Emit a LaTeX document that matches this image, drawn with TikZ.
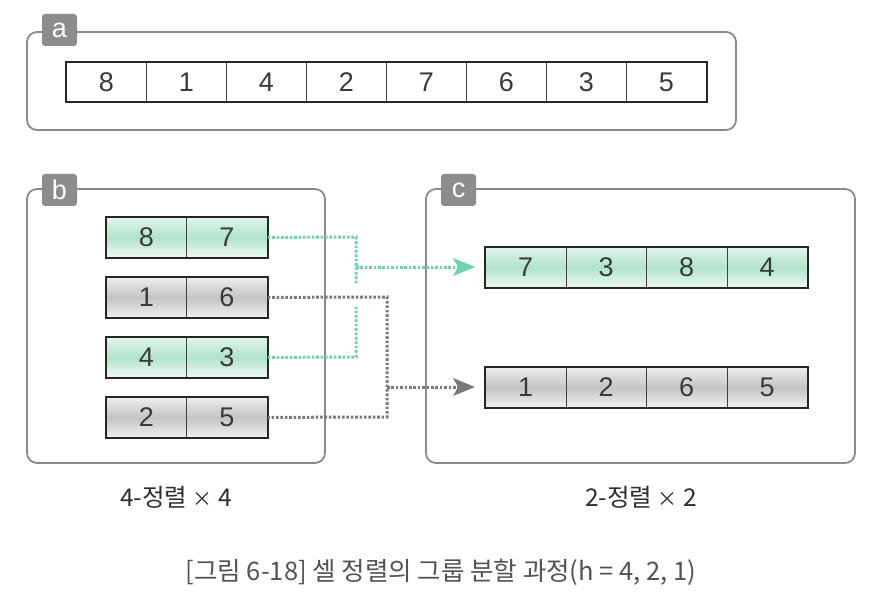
\documentclass[tikz,border=0pt]{standalone}
\usepackage{fontspec}
\setmainfont{Liberation Sans}
\newfontfamily\kr{Noto Sans CJK KR}
\usetikzlibrary{arrows.meta}

\definecolor{panelline}{HTML}{8A8A8A}
\definecolor{tabfill}{HTML}{8C8C8C}
\definecolor{digit}{HTML}{3A3A3A}
\definecolor{mintline}{HTML}{6CD3AE}
\definecolor{mintA}{HTML}{E2F5EC}
\definecolor{mintB}{HTML}{B0E3CC}
\definecolor{mintC}{HTML}{EEF9F4}
\definecolor{greyA}{HTML}{EDEDED}
\definecolor{greyB}{HTML}{C4C4C4}
\definecolor{greyC}{HTML}{EFEFEF}
\definecolor{greyline}{HTML}{7A7A7A}

\tikzset{
  panel/.style={draw=panelline, line width=1.8pt, rounded corners=10pt},
  tab/.style={fill=tabfill, rounded corners=3pt, minimum width=35pt, minimum height=32pt,
              inner sep=0pt, text=white, font=\fontsize{27}{27}\selectfont},
  cell/.style={draw=black!75, line width=0.8pt, inner sep=0pt, anchor=north west,
               text=digit, font=\fontsize{27}{27}\selectfont},
  plaincell/.style={cell, fill=white},
  mintcell/.style={cell, top color=mintA, bottom color=mintC, middle color=mintB},
  greycell/.style={cell, top color=greyA, bottom color=greyC, middle color=greyB},
  frame/.style={draw=black!85, line width=2pt},
  mintdot/.style={draw=mintline, line width=3pt, dash pattern=on 2.6pt off 1.8pt},
  greydot/.style={draw=greyline, line width=3pt, dash pattern=on 2.6pt off 1.8pt},
  mintarrow/.style={mintdot, -{Stealth[length=22pt,width=18pt,inset=5pt,line width=0pt,color=mintline,fill=mintline]}},
  greyarrow/.style={greydot, -{Stealth[length=22pt,width=18pt,inset=5pt,line width=0pt,color=greyline,fill=greyline]}},
  caption/.style={font=\kr\fontsize{24.5}{25}\selectfont, text=black!82, inner sep=0pt}
}

\begin{document}
\begin{tikzpicture}[x=1pt, y=-1pt]
\useasboundingbox (0,0) rectangle (879,607);

% ---------- panel a: the full array ----------
\draw[panel] (27,32) rectangle (736,130);
\node[tab] (taba) at (59.5,30) {a};
\foreach \v [count=\i from 0] in {8,1,4,2,7,6,3,5} {
  \node[plaincell, minimum width=80pt, minimum height=39pt] (a\i) at (66+80*\i,62) {\v};
}
\draw[frame] (a0.north west) rectangle (a7.south east);

% ---------- panel b: four groups of two ----------
\draw[panel] (27,189) rectangle (325,463);
\node[tab] (tabb) at (59.5,190) {b};

\node[mintcell, minimum width=80pt, minimum height=40pt] (b1l) at (106,217) {8};
\node[mintcell, minimum width=81pt, minimum height=40pt] (b1r) at (186,217) {7};
\node[greycell, minimum width=80pt, minimum height=40pt] (b2l) at (106,277) {1};
\node[greycell, minimum width=81pt, minimum height=40pt] (b2r) at (186,277) {6};
\node[mintcell, minimum width=80pt, minimum height=40pt] (b3l) at (106,337) {4};
\node[mintcell, minimum width=81pt, minimum height=40pt] (b3r) at (186,337) {3};
\node[greycell, minimum width=80pt, minimum height=40pt] (b4l) at (106,397) {2};
\node[greycell, minimum width=81pt, minimum height=40pt] (b4r) at (186,397) {5};
\foreach \r in {1,2,3,4} { \draw[frame] (b\r l.north west) rectangle (b\r r.south east); }

% ---------- panel c: two groups of four ----------
\draw[panel] (426,189) rectangle (855,463);
\node[tab] (tabc) at (458.5,190) {c};

\foreach \v [count=\i from 0] in {7,3,8,4} {
  \node[mintcell, minimum width=80.5pt, minimum height=40pt] (c1\i) at (485+80.5*\i,247) {\v};
}
\foreach \v [count=\i from 0] in {1,2,6,5} {
  \node[greycell, minimum width=80.5pt, minimum height=40pt] (c2\i) at (485+80.5*\i,367) {\v};
}
\draw[frame] (c10.north west) rectangle (c13.south east);
\draw[frame] (c20.north west) rectangle (c23.south east);

% ---------- connectors ----------
\coordinate (gtop) at (356,237);
\coordinate (gup)  at (356,285);
\coordinate (gdn)  at (356,307);
\coordinate (gbot) at (356,357);
\coordinate (gmid) at (356,267);
\coordinate (ktop) at (387,297);
\coordinate (kbot) at (387,417);
\coordinate (kmid) at (387,387);

\draw[mintdot] (b1r.east) -- (gtop) -- (gup);
\draw[mintdot] (b3r.east) -- (gbot) -- (gdn);
\draw[mintarrow, shorten >=10pt] (gmid) -- (c10.west |- gmid);

\draw[greydot] (b2r.east) -- (ktop) -- (kbot) -- (b4r.east);
\draw[greyarrow, shorten >=10pt] (kmid) -- (c20.west |- kmid);

% ---------- labels ----------
\node[caption] (lb) at (176,497) {4-정렬 {\fontsize{20}{20}\selectfont×} 4};
\node[caption] (lc) at (641,497) {2-정렬 {\fontsize{20}{20}\selectfont×} 2};
\node[caption, text=black!68, font=\kr\fontsize{25.5}{26}\selectfont] (cap) at (441,572)
  {[그림 6-18] 셀 정렬의 그룹 분할 과정(h = 4, 2, 1)};
\end{tikzpicture}
\end{document}
